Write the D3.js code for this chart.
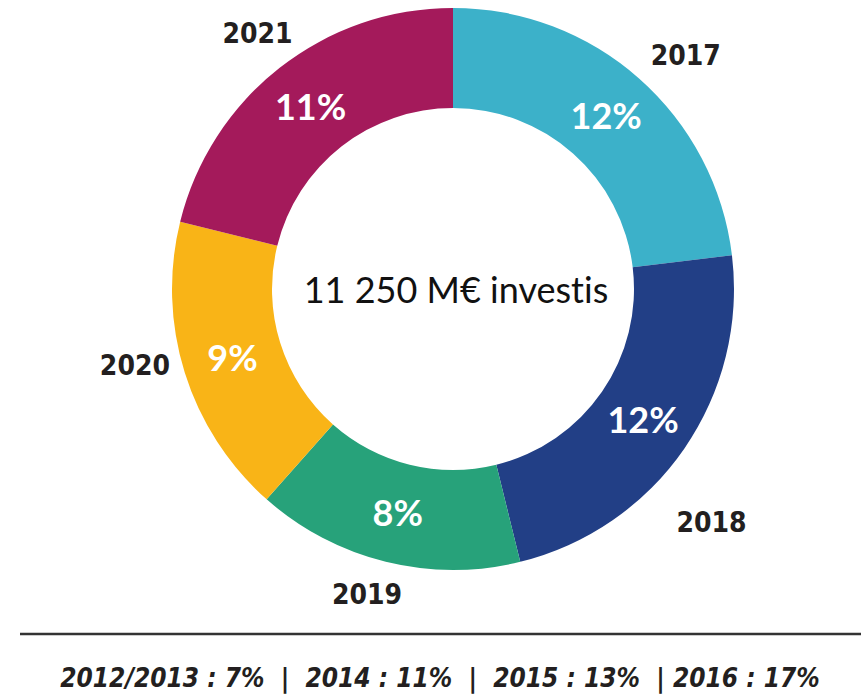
<!DOCTYPE html>
<html>
<head>
<meta charset="utf-8">
<script src="https://cdn.jsdelivr.net/npm/d3@7"></script>
<style>
  html, body { margin: 0; padding: 0; background: #ffffff; }
  svg { display: block; }
  text { font-variant-ligatures: none; }
</style>
</head>
<body>
<div id="chart"></div>
<script>
// ---- Data ----
const years = ["2017", "2018", "2019", "2020", "2021"];
const shares = [12, 12, 8, 9, 11];
const colors = ["#3cb1c9", "#223f86", "#27a27a", "#f9b417", "#a41a5b"];
const centerLabel = "11 250 M€ investis";
const earlierYears = ["2012/2013", "2014", "2015", "2016"];
const earlierShares = [7, 11, 13, 17];

// ---- Layout ----
const W = 861, H = 695;
const cx = 453, cy = 289;
const outerR = 281, innerR = 181;
// year-label placement relative to each slice's mid-angle (degrees, radius)
const yearLabelAngleNudge = [3.3, 7.4, 1.9, 3.9, 0.7];
const yearLabelRadius = [330, 348, 317, 327, 322];

const svg = d3.select("#chart").append("svg")
  .attr("width", W).attr("height", H);

const g = svg.append("g").attr("transform", `translate(${cx},${cy})`);

const data = years.map((y, i) => ({ year: y, value: shares[i], color: colors[i] }));

const pie = d3.pie().sort(null).value(d => d.value);
const arcs = pie(data);

const arc = d3.arc().innerRadius(innerR).outerRadius(outerR);

g.selectAll("path.slice")
  .data(arcs)
  .join("path")
  .attr("class", "slice")
  .attr("d", arc)
  .attr("fill", d => d.data.color);

// percentage labels
g.selectAll("text.pct")
  .data(arcs)
  .join("text")
  .attr("class", "pct")
  .attr("x", d => arc.centroid(d)[0])
  .attr("y", d => arc.centroid(d)[1])
  .attr("dy", "0.36em")
  .attr("text-anchor", "middle")
  .attr("font-family", "Lato, 'Open Sans', sans-serif")
  .attr("font-weight", "bold")
  .attr("font-size", 36)
  .attr("fill", "#ffffff")
  .text(d => d.data.value + "%");

// year labels
g.selectAll("text.year")
  .data(arcs)
  .join("text")
  .attr("class", "year")
  .attr("transform", (d, i) => {
    const a = (d.startAngle + d.endAngle) / 2 + yearLabelAngleNudge[i] * Math.PI / 180;
    const r = yearLabelRadius[i];
    return `translate(${r * Math.sin(a)},${-r * Math.cos(a)})`;
  })
  .attr("dy", "0.36em")
  .attr("text-anchor", "middle")
  .attr("font-family", "'DejaVu Sans Condensed', 'DejaVu Sans', sans-serif")
  .attr("font-weight", "bold")
  .attr("font-size", 28)
  .attr("fill", "#231f20")
  .text(d => d.data.year);

// center label
svg.append("text")
  .attr("x", 456)
  .attr("y", 303)
  .attr("text-anchor", "middle")
  .attr("font-family", "Lato, 'Open Sans', sans-serif")
  .attr("font-weight", 400)
  .attr("font-size", 36)
  .attr("fill", "#111111")
  .text(centerLabel);

// separator line
svg.append("line")
  .attr("x1", 20).attr("x2", W)
  .attr("y1", 634).attr("y2", 634)
  .attr("stroke", "#333333")
  .attr("stroke-width", 2.5);

// footer
const footerParts = earlierYears.map((y, i) => `${y} : ${earlierShares[i]}%`);
const footer = footerParts[0] + "  |  " + footerParts[1] + "  |  " + footerParts[2] + "  | " + footerParts[3];
svg.append("text")
  .attr("x", 440)
  .attr("y", 687)
  .attr("text-anchor", "middle")
  .attr("font-family", "'DejaVu Sans Condensed', 'DejaVu Sans', sans-serif")
  .attr("font-weight", "bold")
  .attr("font-style", "italic")
  .attr("font-size", 26)
  .attr("fill", "#231f20")
  .style("white-space", "pre")
  .text(footer);
</script>
</body>
</html>
